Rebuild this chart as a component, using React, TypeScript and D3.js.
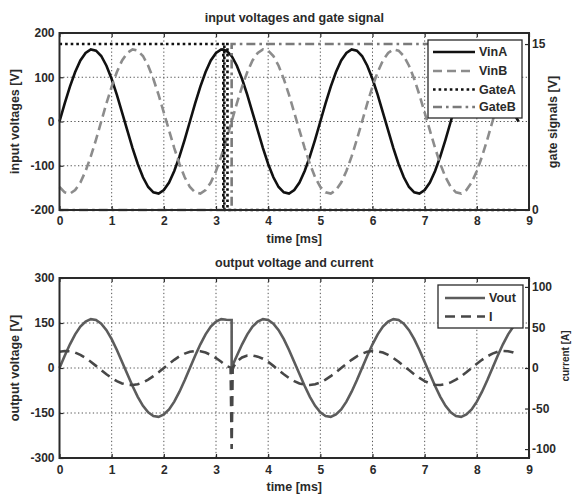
import React, { useEffect, useRef } from 'react';
import * as d3 from 'd3';

// sample spacing of the traces [ms]
const STEP_MS = 0.1;
const sampleTimes = (from: number, to: number) =>
  d3.range(from, to + 1).map((k) => +(k * STEP_MS).toFixed(2));

const X_TICKS = [0, 1, 2, 3, 4, 5, 6, 7, 8, 9];
const VIN_TICKS = [-200, -100, 0, 100, 200];
const GATE_TICKS = [0, 15];
const VOUT_TICKS = [-300, -150, 0, 150, 300];
const CURRENT_TICKS = [-100, -50, 0, 50, 100];

// input voltages [V], 0 .. 8.8 ms
const vinA = [
  0, 41, 79, 112, 138, 155, 163, 160, 148, 126, 96, 60, 20, -20, -60, -96, -126, -148, -160, -163, -155, -138, -112, -79, -41,
  0, 41, 79, 112, 138, 155, 163, 160, 148, 126, 96, 60, 20, -20, -60, -96, -126, -148, -160, -163, -155, -138, -112, -79, -41,
  0, 41, 79, 112, 138, 155, 163, 160, 148, 126, 96, 60, 20, -20, -60, -96, -126, -148, -160, -163, -155, -138, -112, -79, -41,
  0, 41, 79, 112, 138, 155, 163, 160, 148, 126, 96, 60, 20, 0,
];
const vinB = [
  -148, -160, -163, -155, -138, -112, -79, -41,
  0, 41, 79, 112, 138, 155, 163, 160, 148, 126, 96, 60, 20, -20, -60, -96, -126, -148, -160, -163, -155, -138, -112, -79, -41,
  0, 41, 79, 112, 138, 155, 163, 160, 148, 126, 96, 60, 20, -20, -60, -96, -126, -148, -160, -163, -155, -138, -112, -79, -41,
  0, 41, 79, 112, 138, 155, 163, 160, 148, 126, 96, 60, 20, -20, -60, -96, -126, -148, -160, -163, -155, -138, -112, -79, -41,
  0, 41, 79, 112, 138, 155,
];
const vinTime = sampleTimes(0, 88);

// gate signals [V]
const gateATime = [0, 3.14, 3.14, 3.16, 3.16, 3.22, 3.22, 8.8];
const gateAValue = [15, 15, 0, 0, 15, 15, 0, 0];
const gateBTime = [0, 3.3, 3.3, 8.8];
const gateBValue = [0, 0, 15, 15];

// output voltage [V]
const voutTime = [...sampleTimes(0, 32), 3.3, 3.3, ...sampleTimes(34, 88)];
const vout = [
  0, 41, 79, 112, 138, 155, 163, 160, 148, 126, 96, 60, 20, -20, -60, -96, -126, -148, -160, -163, -155, -138, -112, -79, -41,
  0, 41, 79, 112, 138, 155, 163, 161,
  160, 2,
  41, 79, 112, 138, 155, 163, 160, 148, 126, 96, 60, 20, -20, -60, -96, -126, -148, -160, -163, -155, -138, -112, -79, -41,
  0, 41, 79, 112, 138, 155, 163, 160, 148, 126, 96, 60, 20, -20, -60, -96, -126, -148, -160, -163, -155, -138, -112, -79, -41,
  0, 41, 79, 112, 138, 155,
];

// current [A]
const currentTime = [...sampleTimes(0, 32), 3.28, 3.3, 3.32, ...sampleTimes(34, 88)];
const current = [
  20, 21, 20.6, 19, 16.2, 12.3, 7.7, 2.6, -2.6, -7.7, -12.3, -16.2, -19, -20.6, -21, -20, -17.7, -14.4, -10.1, -5.2,
  0, 5.2, 10.1, 14.4, 17.7, 20, 21, 20.6, 19, 16.2, 12.3, 7.7, 2.6,
  0.5, -100, 0,
  8, 13, 15.5, 15.5, 14, 11.5,
  7.7, 2.6, -2.6, -7.7, -12.3, -16.2, -19, -20.6, -21, -20, -17.7, -14.4, -10.1, -5.2,
  0, 5.2, 10.1, 14.4, 17.7, 20, 21, 20.6, 19, 16.2, 12.3, 7.7, 2.6, -2.6, -7.7, -12.3, -16.2, -19, -20.6, -21, -20, -17.7, -14.4, -10.1, -5.2,
  0, 5.2, 10.1, 14.4, 17.7, 20, 21, 20.6, 19, 16.2,
];

const W = 574;
const H = 495;
const LEFT = 59.5;
const RIGHT = 529;
const FONT = '"Liberation Sans", Arial, sans-serif';
const INK = '#2a2a2a';

type Series = {
  name: string;
  time: number[];
  values: number[];
  axis: 'left' | 'right';
  color: string;
  width: number;
  dash: string | null;
};

type Panel = {
  top: number;
  bottom: number;
  title: string;
  leftLabel: string;
  rightLabel: string;
  leftDomain: [number, number];
  rightDomain: [number, number];
  leftTicks: number[];
  rightTicks: number[];
  rightLabelPos: [number, number];
  rightLabelSize: number;
  xPadding: number;
  series: Series[];
  legend: { x: number; y: number; w: number; h: number; rows: number[]; lineX: [number, number]; textX: number };
};

const panels: Panel[] = [
  {
    top: 33,
    bottom: 210,
    title: 'input voltages and gate signal',
    leftLabel: 'input voltages [V]',
    rightLabel: 'gate signals [V]',
    leftDomain: [-200, 200],
    rightDomain: [0, 16],
    leftTicks: VIN_TICKS,
    rightTicks: GATE_TICKS,
    rightLabelPos: [553, 122],
    rightLabelSize: 12.5,
    xPadding: 6,
    series: [
      { name: 'VinA', time: vinTime, values: vinA, axis: 'left', color: '#111', width: 2.6, dash: null },
      { name: 'VinB', time: vinTime, values: vinB, axis: 'left', color: '#8c8c8c', width: 2.6, dash: '9,5' },
      { name: 'GateA', time: gateATime, values: gateAValue, axis: 'right', color: '#111', width: 2.6, dash: '2.6,3' },
      { name: 'GateB', time: gateBTime, values: gateBValue, axis: 'right', color: '#7a7a7a', width: 2.6, dash: '9,4,2.6,4' },
    ],
    legend: { x: 428, y: 40, w: 94, h: 78, rows: [52, 71, 89.5, 107], lineX: [433, 475], textX: 479 },
  },
  {
    top: 278,
    bottom: 458,
    title: 'output voltage and current',
    leftLabel: 'output voltage [V]',
    rightLabel: 'current [A]',
    leftDomain: [-300, 300],
    rightDomain: [-111, 111],
    leftTicks: VOUT_TICKS,
    rightTicks: CURRENT_TICKS,
    rightLabelPos: [565, 356],
    rightLabelSize: 10,
    xPadding: 7.5,
    series: [
      { name: 'Vout', time: voutTime, values: vout, axis: 'left', color: '#5c5c5c', width: 2.6, dash: null },
      { name: 'I', time: currentTime, values: current, axis: 'right', color: '#474747', width: 2.6, dash: '10,6' },
    ],
    legend: { x: 438, y: 285, w: 85, h: 43, rows: [298, 316.5], lineX: [445, 485], textX: 489 },
  },
];

function drawPanel(svg: d3.Selection<SVGSVGElement, unknown, null, undefined>, p: Panel) {
  const x = d3.scaleLinear().domain([0, 9]).range([LEFT, RIGHT]);
  const yL = d3.scaleLinear().domain(p.leftDomain).range([p.bottom, p.top]);
  const yR = d3.scaleLinear().domain(p.rightDomain).range([p.bottom, p.top]);
  const g = svg.append('g');

  // dotted grid
  const grid = g.append('g').attr('stroke', '#555').attr('stroke-width', 1).attr('stroke-dasharray', '1.3,2.4');
  X_TICKS.slice(1, -1).forEach((t) => {
    grid.append('line').attr('x1', x(t)).attr('x2', x(t)).attr('y1', p.top).attr('y2', p.bottom);
  });
  p.leftTicks.slice(1, -1).forEach((t) => {
    grid.append('line').attr('x1', LEFT).attr('x2', RIGHT).attr('y1', yL(t)).attr('y2', yL(t));
  });

  // traces
  p.series.forEach((s) => {
    const y = s.axis === 'left' ? yL : yR;
    const line = d3
      .line<number>()
      .x((_, i) => x(s.time[i]))
      .y((d) => y(d));
    g.append('path')
      .datum(s.values)
      .attr('fill', 'none')
      .attr('stroke', s.color)
      .attr('stroke-width', s.width)
      .attr('stroke-dasharray', s.dash)
      .attr('d', line);
  });

  // frame
  g.append('rect')
    .attr('x', LEFT)
    .attr('y', p.top)
    .attr('width', RIGHT - LEFT)
    .attr('height', p.bottom - p.top)
    .attr('fill', 'none')
    .attr('stroke', INK)
    .attr('stroke-width', 2);

  const fmt = (d: d3.NumberValue) => String(d);
  const styleAxis = (sel: d3.Selection<SVGGElement, unknown, null, undefined>) => {
    sel.select('.domain').remove();
    sel.selectAll('line').attr('stroke', INK).attr('stroke-width', 1.2);
    sel.selectAll('text').attr('fill', INK).attr('font-family', FONT).attr('font-size', 12).attr('font-weight', 'bold');
  };

  g.append('g')
    .attr('transform', `translate(0,${p.bottom})`)
    .call(d3.axisBottom(x).tickValues(X_TICKS).tickFormat(fmt).tickSizeInner(-4).tickSizeOuter(0).tickPadding(p.xPadding))
    .call(styleAxis);
  g.append('g')
    .attr('transform', `translate(0,${p.top})`)
    .call(d3.axisTop(x).tickValues(X_TICKS).tickFormat(() => '').tickSizeInner(-4).tickSizeOuter(0))
    .call(styleAxis);
  g.append('g')
    .attr('transform', `translate(${LEFT},0)`)
    .call(d3.axisLeft(yL).tickValues(p.leftTicks).tickFormat(fmt).tickSizeInner(-4).tickSizeOuter(0).tickPadding(5))
    .call(styleAxis);
  g.append('g')
    .attr('transform', `translate(${RIGHT},0)`)
    .call(d3.axisRight(yR).tickValues(p.rightTicks).tickFormat(fmt).tickSizeInner(-4).tickSizeOuter(0).tickPadding(3))
    .call(styleAxis);

  const label = (txt: string, tx: number, ty: number, rot = 0, size = 12.5) =>
    g.append('text')
      .attr('transform', `translate(${tx},${ty}) rotate(${rot})`)
      .attr('text-anchor', 'middle')
      .attr('dominant-baseline', 'central')
      .attr('fill', INK)
      .attr('font-family', FONT)
      .attr('font-size', size)
      .attr('font-weight', 'bold')
      .text(txt);

  const mid = (LEFT + RIGHT) / 2;
  label(p.title, mid, p.top - 15);
  label('time [ms]', mid, p.bottom + 28.5);
  label(p.leftLabel, 15, (p.top + p.bottom) / 2, -90);
  label(p.rightLabel, p.rightLabelPos[0], p.rightLabelPos[1], -90, p.rightLabelSize);

  // legend
  const L = p.legend;
  const lg = g.append('g');
  lg.append('rect')
    .attr('x', L.x)
    .attr('y', L.y)
    .attr('width', L.w)
    .attr('height', L.h)
    .attr('fill', '#fff')
    .attr('stroke', INK)
    .attr('stroke-width', 1.3);
  p.series.forEach((s, i) => {
    const ry = L.rows[i];
    lg.append('line')
      .attr('x1', L.lineX[0])
      .attr('x2', L.lineX[1])
      .attr('y1', ry)
      .attr('y2', ry)
      .attr('stroke', s.color)
      .attr('stroke-width', s.width)
      .attr('stroke-dasharray', s.dash);
    lg.append('text')
      .attr('x', L.textX)
      .attr('y', ry)
      .attr('dominant-baseline', 'central')
      .attr('fill', INK)
      .attr('font-family', FONT)
      .attr('font-size', 12.5)
      .attr('font-weight', 'bold')
      .text(s.name);
  });
}

export default function App() {
  const svgRef = useRef<SVGSVGElement>(null);

  useEffect(() => {
    if (!svgRef.current) return;
    const svg = d3.select(svgRef.current);
    svg.selectAll('*').remove();
    svg.append('rect').attr('width', W).attr('height', H).attr('fill', '#fff');
    panels.forEach((p) => drawPanel(svg, p));
  }, []);

  return <svg ref={svgRef} width={W} height={H} style={{ position: 'absolute', left: 0, top: 0 }} />;
}
